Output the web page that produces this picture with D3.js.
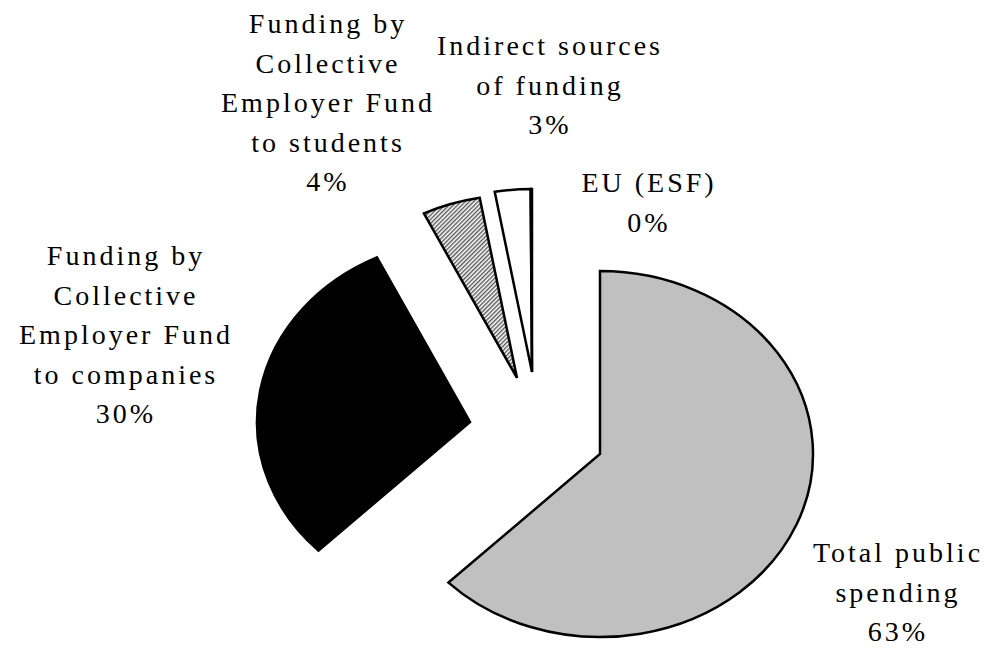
<!DOCTYPE html>
<html>
<head>
<meta charset="utf-8">
<script src="https://cdn.jsdelivr.net/npm/d3@7"></script>
<style>
  body { margin: 0; background: #fff; }
  svg text { font-family: "Liberation Serif", "Times New Roman", serif; font-size: 28px; letter-spacing: 3px; fill: #000; }
</style>
</head>
<body>
<div class="pie"></div>
<script>
// slices, clockwise from 12 o'clock
var categories = [
    "Total public spending",
    "Funding by Collective Employer Fund to companies",
    "Funding by Collective Employer Fund to students",
    "Indirect sources of funding",
    "EU (ESF)"
];
var shares = [62.6, 30.2, 4.4, 2.7, 0.1];
var labelLines = [
    ["Total public", "spending"],
    ["Funding by", "Collective", "Employer Fund", "to companies"],
    ["Funding by", "Collective", "Employer Fund", "to students"],
    ["Indirect sources", "of funding"],
    ["EU (ESF)"]
];

// layout / style
var width = 984, height = 648;
var cx = 600, cy = 454, rx = 213, ry = 183;
var explode = [[0, 0], [-130, -32], [-83, -76], [-68, -82], [-68, -82]];
var fills = ["#c0c0c0", "#000", "url(#hatch)", "#fff", "#fff"];
var labelPos = [[898, 562], [126, 265], [328, 33], [550, 55], [649, 192]];
var lineH = 39.5;

var canvas = d3.select(".pie").append("svg")
    .attr("width", width)
    .attr("height", height);

var pat = canvas.append("defs").append("pattern")
    .attr("id", "hatch")
    .attr("width", 3)
    .attr("height", 3)
    .attr("patternUnits", "userSpaceOnUse")
    .attr("patternTransform", "rotate(45)");
pat.append("rect").attr("width", 3).attr("height", 3).attr("fill", "#fff");
pat.append("rect").attr("width", 1.4).attr("height", 3).attr("fill", "#555");

var pie = d3.pie().sort(null).value(function (d) { return d; });
var arcs = pie(shares);

// elliptical wedge built from the pie angles
function wedge(d) {
    var x0 = rx * Math.sin(d.startAngle), y0 = -ry * Math.cos(d.startAngle);
    var x1 = rx * Math.sin(d.endAngle), y1 = -ry * Math.cos(d.endAngle);
    var large = (d.endAngle - d.startAngle) > Math.PI ? 1 : 0;
    return "M0,0L" + x0 + "," + y0 + "A" + rx + "," + ry + " 0 " + large + " 1 " + x1 + "," + y1 + "Z";
}

canvas.append("g")
    .selectAll("path")
    .data(arcs)
    .enter()
    .append("path")
    .attr("transform", function (d, i) {
        return "translate(" + (cx + explode[i][0]) + "," + (cy + explode[i][1]) + ")";
    })
    .attr("d", wedge)
    .attr("fill", function (d, i) { return fills[i]; })
    .attr("stroke", "#000")
    .attr("stroke-width", 2.5)
    .attr("stroke-linejoin", "miter");

var pct = d3.format(".0%");

var labels = canvas.append("g")
    .selectAll("text")
    .data(arcs)
    .enter()
    .append("text")
    .attr("text-anchor", "middle")
    .attr("transform", function (d, i) {
        return "translate(" + labelPos[i][0] + "," + labelPos[i][1] + ")";
    });

labels.selectAll("tspan")
    .data(function (d, i) { return labelLines[i].concat([pct(d.data / 100)]); })
    .enter()
    .append("tspan")
    .attr("x", 0)
    .attr("y", function (d, j) { return j * lineH; })
    .text(function (d) { return d; });
</script>
</body>
</html>
